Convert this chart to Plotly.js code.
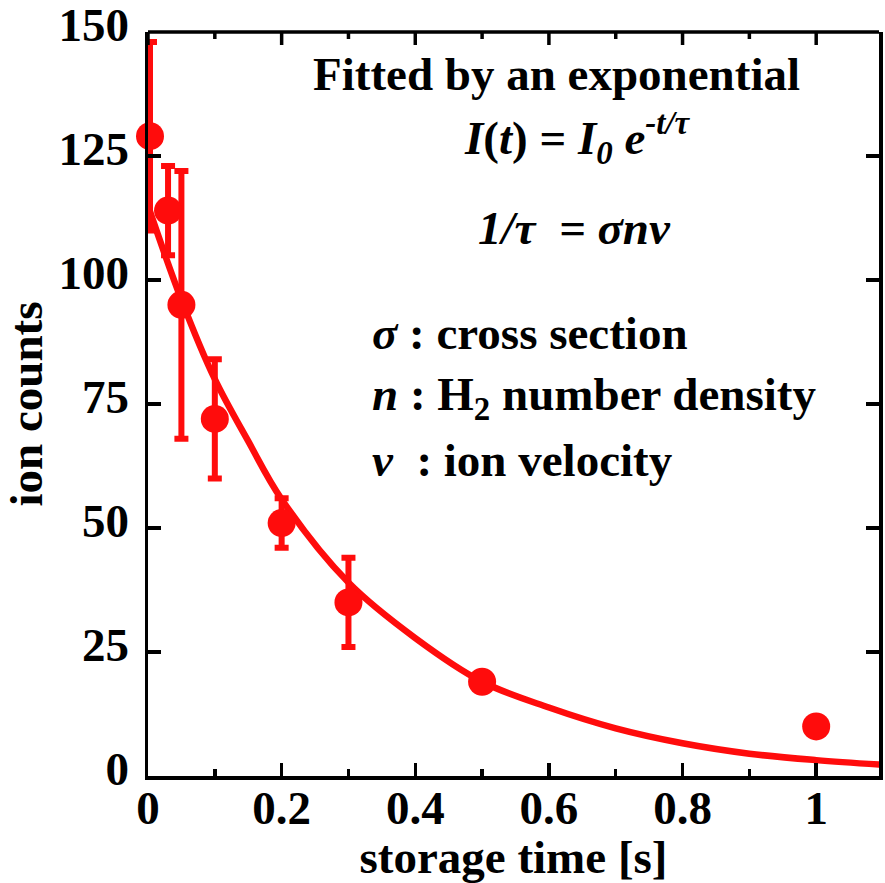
<!DOCTYPE html>
<html>
<head>
<meta charset="utf-8">
<script src="https://cdn.plot.ly/plotly-3.0.1.min.js"></script>
<style>
  html, body { margin: 0; padding: 0; background: #fff; }
  #chart { width: 885px; height: 883px; }
</style>
</head>
<body>
<div id="chart"></div>
<script>
// Measured data points
const storageTime = [0.003, 0.03, 0.05, 0.1, 0.2, 0.3, 0.5, 1.0];
const ionCounts   = [129, 114, 95, 72, 51, 35, 19, 10];
const ionErrors   = [19, 9, 27, 12, 5, 9, 0, 0];

// Fitted exponential curve
const fitTime   = [0, 0.05, 0.1, 0.15, 0.2, 0.3, 0.4, 0.5, 0.6, 0.7, 0.8, 0.9, 1.0, 1.095];
const fitCounts = [115, 96, 80, 67.5, 55.8, 39, 27.8, 19, 13.8, 9.6, 6.6, 4.5, 3.2, 2.3];

const xTickVals  = [0, 0.2, 0.4, 0.6, 0.8, 1];
const xTickText  = ['0', '0.2', '0.4', '0.6', '0.8', '1'];
const xMinorVals = [0.1, 0.3, 0.5, 0.7, 0.9];
const yTickVals  = [0, 25, 50, 75, 100, 125, 150];

const RED = 'rgb(255,12,12)';
const FONT = 'Liberation Serif, Times New Roman, serif';
const PLOT_H = 744; // plot area height in px

const traces = [
  {
    x: fitTime, y: fitCounts,
    type: 'scatter', mode: 'lines',
    line: { color: RED, width: 6.5, shape: 'spline', smoothing: 1 },
    hoverinfo: 'skip'
  },
  {
    x: storageTime, y: ionCounts,
    type: 'scatter', mode: 'markers',
    marker: { color: RED, size: 28 },
    error_y: { type: 'data', array: ionErrors, visible: true, color: RED, thickness: 6, width: 7 },
    cliponaxis: false
  }
];

const tf = { family: FONT, size: 47, color: '#000', weight: 'bold' };
const af = { family: FONT, size: 47, color: '#000', weight: 'bold' };

const frameAxis = {
  ticks: 'inside', ticklen: 13, tickwidth: 3.5, tickcolor: '#000',
  showline: true, linecolor: '#000', linewidth: 3.5,
  showgrid: false, zeroline: false
};

// top frame line and its inward ticks (built from the tick arrays)
const frameLine = { color: '#000', width: 3.5 };
const shapes = [
  { type: 'line', xref: 'paper', yref: 'paper', x0: 0, x1: 1, y0: 1, y1: 1, line: frameLine, layer: 'above' }
].concat(
  xTickVals.map(v => ({ type: 'line', xref: 'x', yref: 'paper', x0: v, x1: v, y0: 1, y1: 1 - 13 / PLOT_H, line: frameLine, layer: 'above' })),
  xMinorVals.map(v => ({ type: 'line', xref: 'x', yref: 'paper', x0: v, x1: v, y0: 1, y1: 1 - 7 / PLOT_H, line: frameLine, layer: 'above' }))
);

const layout = {
  width: 885, height: 883,
  margin: { l: 148, r: 6, t: 32, b: 107 },
  paper_bgcolor: '#fff', plot_bgcolor: '#fff',
  showlegend: false,
  font: { family: FONT, color: '#000' },
  shapes: shapes,
  xaxis: Object.assign({}, frameAxis, {
    range: [0, 1.094],
    tickvals: xTickVals, ticktext: xTickText,
    minor: { tickvals: xMinorVals, ticks: 'inside', ticklen: 7, tickwidth: 3.5, tickcolor: '#000' },
    mirror: false,
    tickfont: tf,
    ticklabelstandoff: -12,
    ticklabeloverflow: 'allow',
    title: { text: '<b>storage time [s]</b>', font: af, standoff: 22 }
  }),
  yaxis: Object.assign({}, frameAxis, {
    range: [0, 150],
    tickvals: yTickVals,
    mirror: 'ticks',
    tickfont: tf,
    ticklabelshift: -7,
    ticklabelstandoff: 6,
    ticklabeloverflow: 'allow',
    title: { text: '<b>ion counts</b>', font: af, standoff: 4 }
  }),
  annotations: [
    { xref: 'paper', yref: 'paper', x: 0.5595, y: 0.943, xanchor: 'center', yanchor: 'middle', showarrow: false,
      text: '<b>Fitted by an exponential</b>', font: af },
    { xref: 'paper', yref: 'paper', x: 0.587, y: 0.857, xanchor: 'center', yanchor: 'middle', showarrow: false,
      text: '<b><i>I</i>(<i>t</i>) = <i>I<sub>0</sub> e<sup>-t/τ</sup></i></b>', font: af },
    { xref: 'paper', yref: 'paper', x: 0.584, y: 0.737, xanchor: 'center', yanchor: 'middle', showarrow: false,
      text: '<b><i>1/τ  = σnv</i></b>', font: af },
    { xref: 'paper', yref: 'paper', x: 0.3037, y: 0.5954, xanchor: 'left', yanchor: 'middle', showarrow: false,
      text: '<b><i>σ</i> : cross section</b>', font: af },
    { xref: 'paper', yref: 'paper', x: 0.3037, y: 0.5094, xanchor: 'left', yanchor: 'middle', showarrow: false,
      text: '<b><i>n</i> : H<sub>2</sub> number density</b>', font: af },
    { xref: 'paper', yref: 'paper', x: 0.3037, y: 0.4247, xanchor: 'left', yanchor: 'middle', showarrow: false,
      text: '<b><i>v</i>  : ion velocity</b>', font: af }
  ]
};

Plotly.newPlot('chart', traces, layout, { displayModeBar: false, staticPlot: true });
</script>
</body>
</html>
